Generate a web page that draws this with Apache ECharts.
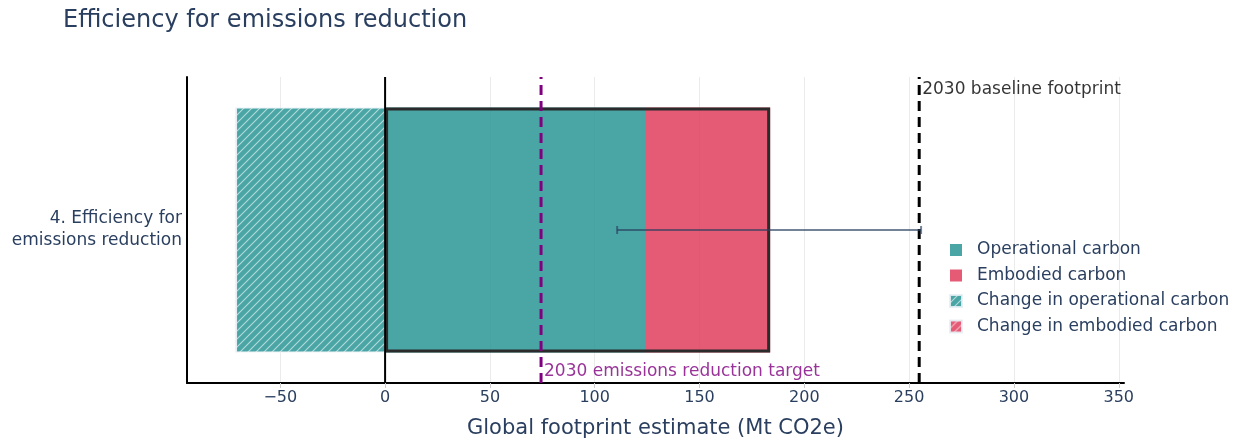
<!DOCTYPE html>
<html>
<head>
<meta charset="utf-8">
<script src="https://cdn.jsdelivr.net/npm/echarts@6/dist/echarts.min.js"></script>
<style>
  html, body { margin: 0; padding: 0; background: #fff; }
  #chart { width: 1239px; height: 444px; }
</style>
</head>
<body>
<div id="chart"></div>
<script>
// Scenario shown on the category axis
const categories = ['4. Efficiency for\nemissions reduction'];

// Footprint components (Mt CO2e)
const operationalCarbon = [124.0];
const embodiedCarbon = [59.7];
const changeOperational = [-71.1];
const changeEmbodied = [0];

// Uncertainty range of the total footprint
const errorLow = [110.7];
const errorHigh = [255.7];

// Reference lines
const baselineFootprint = 254.8;
const reductionTarget = 74.4;

// X axis ticks
const xTicks = [-50, 0, 50, 100, 150, 200, 250, 300, 350];

const TEAL = 'rgba(42,149,149,0.85)';
const RED = 'rgba(224,61,93,0.85)';
const TEXT = '#2a3f5f';
const FONT = 'DejaVu Sans';

// Diagonal hatch fill for the "change" bars
function hatch(base) {
  const s = 8;
  const c = document.createElement('canvas');
  c.width = s; c.height = s;
  const g = c.getContext('2d');
  g.fillStyle = base;
  g.fillRect(0, 0, s, s);
  g.strokeStyle = 'rgba(255,255,255,0.6)';
  g.lineWidth = 1.1;
  g.beginPath();
  g.moveTo(0, s); g.lineTo(s, 0);
  g.moveTo(-s / 2, s / 2); g.lineTo(s / 2, -s / 2);
  g.moveTo(s / 2, s * 1.5); g.lineTo(s * 1.5, s / 2);
  g.stroke();
  return { image: c, repeat: 'repeat' };
}

const totals = operationalCarbon.map((v, i) => v + embodiedCarbon[i]);

const chart = echarts.init(document.getElementById('chart'), null, { renderer: 'canvas' });

chart.setOption({
  animation: false,
  title: {
    text: 'Efficiency for emissions reduction',
    left: 58, top: 4,
    textStyle: { fontFamily: FONT, fontSize: 24, fontWeight: 'normal', color: TEXT }
  },
  legend: {
    orient: 'vertical',
    left: 944, top: 236,
    itemWidth: 12, itemHeight: 12, itemGap: 7.5,
    icon: 'rect',
    data: ['Operational carbon', 'Embodied carbon', 'Change in operational carbon', 'Change in embodied carbon'],
    textStyle: { fontFamily: FONT, fontSize: 17, color: TEXT, lineHeight: 18, padding: [0, 0, 0, 10] }
  },
  grid: { left: 187, right: 115, top: 77, bottom: 59, containLabel: false },
  xAxis: {
    type: 'value',
    min: -94.5, max: 352.5,
    name: 'Global footprint estimate (Mt CO2e)',
    nameLocation: 'middle', nameGap: 35,
    nameTextStyle: { fontFamily: FONT, fontSize: 21, color: TEXT },
    axisLine: { show: true, onZero: false, lineStyle: { color: '#000', width: 2 } },
    axisTick: { show: true, length: 5, customValues: xTicks, lineStyle: { color: '#ccc' } },
    axisLabel: {
      customValues: xTicks, margin: 7,
      fontFamily: FONT, fontSize: 16, color: TEXT,
      formatter: v => (v < 0 ? '\u2212' + Math.abs(v) : String(v))
    },
    splitLine: { show: true, lineStyle: { color: '#ebebeb', width: 1 } }
  },
  yAxis: [
    {
      type: 'category',
      data: categories,
      axisLine: { show: true, onZero: false, lineStyle: { color: '#000', width: 2 } },
      axisTick: { show: false },
      axisLabel: { fontFamily: FONT, fontSize: 17, color: TEXT, lineHeight: 22, align: 'right', margin: 5 }
    },
    { type: 'value', min: 0, max: 1, show: false }
  ],
  series: [
    {
      name: 'Operational carbon', type: 'bar', stack: 'fp',
      data: operationalCarbon, barWidth: '80%',
      itemStyle: { color: TEAL }
    },
    {
      name: 'Embodied carbon', type: 'bar', stack: 'fp',
      data: embodiedCarbon, barWidth: '80%',
      itemStyle: { color: RED }
    },
    {
      name: 'Change in operational carbon', type: 'bar', stack: 'fp',
      data: changeOperational, barWidth: '80%',
      itemStyle: { color: hatch(TEAL), borderColor: 'rgba(230,240,245,0.9)', borderWidth: 1 }
    },
    {
      name: 'Change in embodied carbon', type: 'bar', stack: 'fp',
      data: changeEmbodied, barWidth: '80%',
      itemStyle: { color: hatch(RED), borderColor: 'rgba(230,240,245,0.9)', borderWidth: 1 }
    },
    {
      // outline around the total footprint
      name: 'total', type: 'bar', data: totals,
      barWidth: '80%', barGap: '-100%', z: 3,
      itemStyle: { color: 'rgba(0,0,0,0)', borderColor: '#2b2b2b', borderWidth: 3 },
      silent: true
    },
    {
      // zero line
      name: 'zero', type: 'line', yAxisIndex: 1, z: 4,
      data: [[0, 0], [0, 1]], symbol: 'none', silent: true,
      lineStyle: { color: '#000', width: 2 }
    },
    {
      name: 'target', type: 'line', yAxisIndex: 1, z: 5,
      data: [[reductionTarget, 0], [reductionTarget, 1]], symbol: 'none', silent: true,
      lineStyle: { color: '#800080', width: 3, type: [10, 6] }
    },
    {
      name: 'baseline', type: 'line', yAxisIndex: 1, z: 5,
      data: [[baselineFootprint, 0], [baselineFootprint, 1]], symbol: 'none', silent: true,
      lineStyle: { color: '#000', width: 3, type: [10, 6] }
    },
    {
      name: 'line labels', type: 'scatter', yAxisIndex: 1, z: 6,
      symbolSize: 0, silent: true,
      data: [
        { value: [reductionTarget, 0.037], name: '2030 emissions reduction target',
          label: { color: '#800080' } },
        { value: [baselineFootprint, 0.958], name: '2030 baseline footprint',
          label: { color: '#000' } }
      ],
      label: {
        show: true, position: 'right', distance: 3,
        fontFamily: FONT, fontSize: 17,
        formatter: p => p.name
      }
    },
    {
      name: 'range', type: 'custom', z: 7, silent: true,
      data: categories.map((c, i) => [i, errorLow[i], errorHigh[i]]),
      renderItem: (params, api) => {
        const idx = api.value(0);
        const lo = api.coord([api.value(1), idx]);
        const hi = api.coord([api.value(2), idx]);
        const cap = 4;
        const style = { stroke: TEXT, lineWidth: 2, opacity: 0.65 };
        return {
          type: 'group',
          children: [
            { type: 'line', shape: { x1: lo[0], y1: lo[1], x2: hi[0], y2: hi[1] }, style },
            { type: 'line', shape: { x1: lo[0], y1: lo[1] - cap, x2: lo[0], y2: lo[1] + cap }, style },
            { type: 'line', shape: { x1: hi[0], y1: hi[1] - cap, x2: hi[0], y2: hi[1] + cap }, style }
          ]
        };
      },
      encode: { x: [1, 2], y: 0 }
    }
  ]
});
</script>
</body>
</html>
